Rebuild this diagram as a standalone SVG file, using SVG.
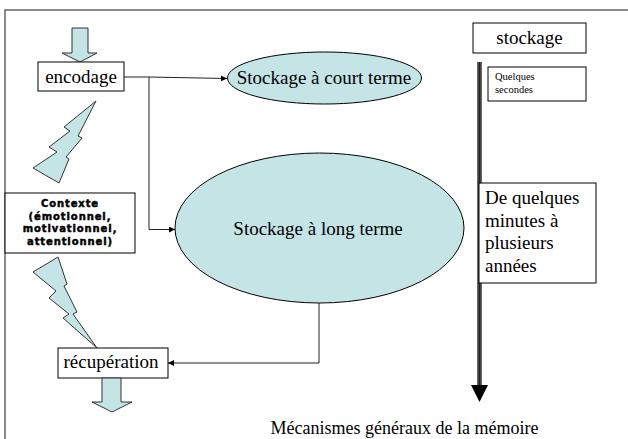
<svg xmlns="http://www.w3.org/2000/svg" width="628" height="439" viewBox="0 0 628 439">
  <style>
    .serif { font-family: "Liberation Serif", "Times New Roman", serif; fill: #000; }
    .box { fill: #fff; stroke: #000; stroke-width: 1; }
    .blob { fill: #c4e4e6; stroke: #000; stroke-width: 1; }
    .shape { fill: #c4e4e6; stroke: #333; stroke-width: 1; }
    .wire { fill: none; stroke: #222; stroke-width: 1; }
    .heavy { font-family: "DejaVu Sans", "Arial Black", sans-serif; font-weight: 900; font-size: 10px; letter-spacing: 0.9px; fill: #000; stroke: #000; stroke-width: 0.45; }
  </style>
  <defs>
    <marker id="tip" viewBox="0 0 8 8" refX="8" refY="4" markerWidth="6" markerHeight="6" orient="auto" markerUnits="userSpaceOnUse">
      <path d="M0,0 L8,4 L0,8 z" fill="#000"/>
    </marker>
  </defs>

  <rect width="628" height="439" fill="#fff"/>
  <!-- slide frame -->
  <rect x="5" y="10" width="700" height="500" fill="none" stroke="#666" stroke-width="1.5"/>

  <!-- connectors -->
  <g id="connectors">
    <polyline class="wire" points="124,77 149,77 227,78.5" marker-end="url(#tip)"/>
    <polyline class="wire" points="149,77 149,229.5 175,229.5" marker-end="url(#tip)"/>
    <polyline class="wire" points="319,303 319,363 168,363" marker-end="url(#tip)"/>
  </g>

  <!-- incoming block arrow -->
  <g id="arrow-in">
    <polygon class="shape" points="72,28 88,28 88,53 97,53 80,62 62,53 72,53"/>
  </g>

  <g id="encodage">
    <rect class="box" x="38" y="62" width="86" height="29"/>
    <text class="serif" x="81" y="83" font-size="19" text-anchor="middle">encodage</text>
  </g>

  <g id="bolt-upper">
    <polygon class="shape" points="96,101 64,127 70,131 49,147 57,152 33,168 59,183 69,159 66,157 82,138 78,136"/>
  </g>

  <g id="contexte">
    <rect class="box" x="5" y="193" width="130" height="60"/>
    <text class="heavy" x="70" y="207" text-anchor="middle">Contexte</text>
    <text class="heavy" x="70" y="219.5" text-anchor="middle">(émotionnel,</text>
    <text class="heavy" x="70" y="232" text-anchor="middle">motivationnel,</text>
    <text class="heavy" x="70" y="244.5" text-anchor="middle">attentionnel)</text>
  </g>

  <g id="bolt-lower">
    <polygon class="shape" points="33,272 58,257 67,284 64,286 77,312 73,314 97,348 63,318 69,314 49,298 56,291"/>
  </g>

  <g id="recuperation">
    <rect class="box" x="58" y="348" width="110" height="30"/>
    <text class="serif" x="111" y="368" font-size="19" text-anchor="middle">récupération</text>
  </g>

  <!-- outgoing block arrow -->
  <g id="arrow-out">
    <polygon class="shape" points="102,378 121,378 121,402 132,402 112,412 92,402 102,402"/>
  </g>

  <g id="court-terme">
    <ellipse class="blob" cx="324.5" cy="78" rx="97" ry="26"/>
    <text class="serif" x="324" y="84" font-size="19" text-anchor="middle">Stockage à court terme</text>
  </g>

  <g id="long-terme">
    <ellipse class="blob" cx="319.5" cy="228" rx="144.5" ry="75"/>
    <text class="serif" x="318" y="235" font-size="19" text-anchor="middle">Stockage à long terme</text>
  </g>

  <!-- time axis -->
  <g id="axe-temps">
    <line x1="479.5" y1="62" x2="479.5" y2="386" stroke="#666" stroke-width="5"/>
    <line x1="479.5" y1="62" x2="479.5" y2="386" stroke="#222" stroke-width="2"/>
    <polygon points="471,385 488,385 479.5,402" fill="#000"/>
  </g>

  <g id="stockage">
    <rect class="box" x="473" y="23" width="113" height="30"/>
    <text class="serif" x="529.5" y="44" font-size="19" text-anchor="middle">stockage</text>
  </g>

  <g id="secondes">
    <rect class="box" x="488" y="67" width="98" height="34"/>
    <text class="serif" x="495" y="80" font-size="10.5">Quelques</text>
    <text class="serif" x="495" y="93" font-size="10.5">secondes</text>
  </g>

  <g id="annees">
    <rect class="box" x="479" y="183" width="117" height="100"/>
    <text class="serif" x="485" y="204" font-size="19">De quelques</text>
    <text class="serif" x="485" y="227" font-size="19">minutes à</text>
    <text class="serif" x="485" y="249" font-size="19">plusieurs</text>
    <text class="serif" x="485" y="272" font-size="19">années</text>
  </g>

  <text class="serif" x="404.5" y="434" font-size="18" text-anchor="middle">Mécanismes généraux de la mémoire</text>
</svg>
